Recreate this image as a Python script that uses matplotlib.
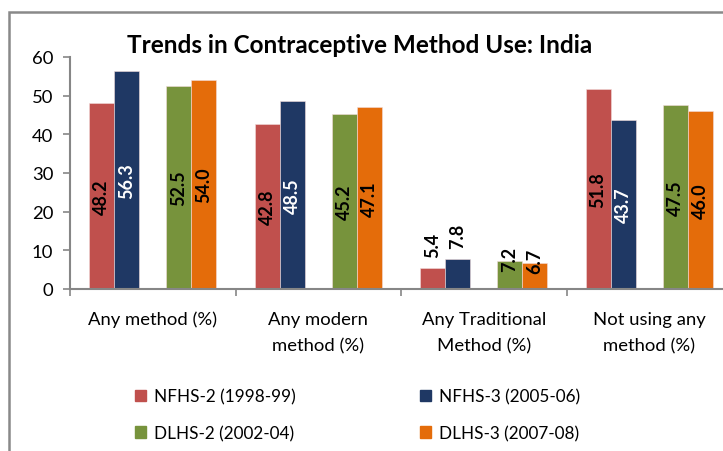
import numpy as np
import matplotlib
matplotlib.use('Agg')
import matplotlib.pyplot as plt
from matplotlib.patches import Rectangle, Patch

categories = ['Any method (%)', 'Any modern\nmethod (%)',
              'Any Traditional\nMethod (%)', 'Not using any\nmethod (%)']
series_names = ['NFHS-2 (1998-99)', 'NFHS-3 (2005-06)',
                'DLHS-2 (2002-04)', 'DLHS-3 (2007-08)']
nfhs2 = [48.2, 42.8, 5.4, 51.8]
nfhs3 = [56.3, 48.5, 7.8, 43.7]
dlhs2 = [52.5, 45.2, 7.2, 47.5]
dlhs3 = [54.0, 47.1, 6.7, 46.0]
yticks = [0, 10, 20, 30, 40, 50, 60]

colors = ['#C0504D', '#1F3864', '#77933C', '#E46C0A']
label_colors = ['black', 'white', 'black', 'black']
offsets = [-0.309, -0.158, 0.158, 0.309]
bar_w = 0.152
grey = '#868686'

plt.rcParams['font.family'] = ['Lato', 'DejaVu Sans']

fig = plt.figure(figsize=(7.23, 4.52), dpi=100)
ax = fig.add_axes([70 / 723, 162 / 452, 662 / 723, 232 / 452])

x = np.arange(len(categories))
all_series = [nfhs2, nfhs3, dlhs2, dlhs3]
for s, (vals, c, lc, off) in enumerate(zip(all_series, colors, label_colors, offsets)):
    bars = ax.bar(x + off, vals, width=bar_w, color=c, edgecolor='#f2dcdb',
                  linewidth=0.4, label=series_names[s], zorder=2)
    for b, v in zip(bars, vals):
        cx = b.get_x() + b.get_width() / 2
        if v > 15:
            ax.text(cx, v / 2, f'{v:.1f}', rotation=90, ha='center', va='center',
                    fontsize=13, fontweight='bold', color=lc)
        elif s < 2:
            ax.annotate(f'{v:.1f}', (cx, v), xytext=(0, 8), textcoords='offset points',
                        rotation=90, ha='center', va='bottom',
                        fontsize=13, fontweight='bold', color='black')
        else:
            ax.annotate(f'{v:.1f}', (cx, v), xytext=(0, 2), textcoords='offset points',
                        rotation=90, ha='center', va='center',
                        fontsize=13, fontweight='bold', color='black')

ax.set_xlim(-0.5, 3.5)
ax.set_ylim(0, 60)
ax.set_yticks(yticks)
ax.set_xticks([-0.5, 0.5, 1.5, 2.5, 3.5])
ax.set_xticklabels([])
for i, cat in enumerate(categories):
    ax.text(i, -5.6, cat, ha='center', va='top', fontsize=13.3, linespacing=1.8)

for side in ['top', 'right']:
    ax.spines[side].set_visible(False)
for side in ['left', 'bottom']:
    ax.spines[side].set_color(grey)
    ax.spines[side].set_linewidth(1.5)
ax.tick_params(axis='y', direction='out', length=5, color=grey, width=1.2,
               labelsize=13.3, pad=7)
ax.tick_params(axis='x', direction='out', length=5, color=grey, width=1.2)

fig.text(0.497, 0.90, 'Trends in Contraceptive Method Use: India', ha='center',
         va='center', fontsize=17.5, fontweight='bold')

handles = [Patch(color=c) for c in colors]
order = [0, 2, 1, 3]
fig.legend([handles[i] for i in order], [series_names[i] for i in order],
           ncol=2, loc='upper left', bbox_to_anchor=(120 / 723, 1 - 374 / 452),
           frameon=False, fontsize=12.3, handlelength=0.65, handleheight=0.65,
           handletextpad=0.45, columnspacing=7.25, labelspacing=1.2)

fig.patches.append(Rectangle((8.5 / 723, -0.1), 1.2, 1.1 - 12.5 / 452,
                             transform=fig.transFigure, fill=False,
                             edgecolor='#898989', linewidth=1.8))

fig.savefig('out.png', dpi=100)
